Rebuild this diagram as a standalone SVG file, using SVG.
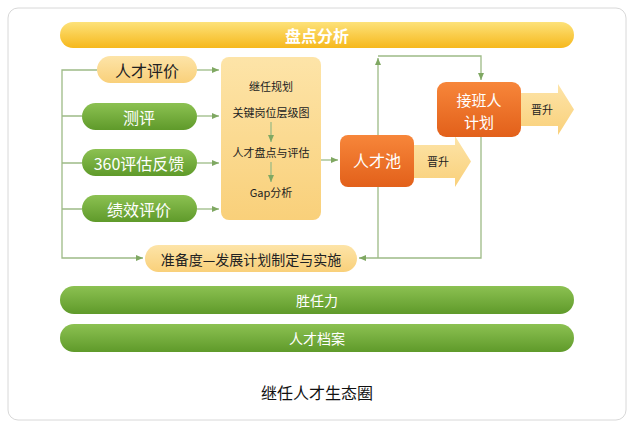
<svg xmlns="http://www.w3.org/2000/svg" width="634" height="428" viewBox="0 0 634 428">
<defs>
<linearGradient id="gy" x1="0" y1="0" x2="0" y2="1"><stop offset="0" stop-color="#fde27a"/><stop offset="1" stop-color="#f6b81c"/></linearGradient>
<linearGradient id="gg" x1="0" y1="0" x2="0" y2="1"><stop offset="0" stop-color="#8cc152"/><stop offset="1" stop-color="#5f9a2a"/></linearGradient>
<linearGradient id="go" x1="0" y1="0" x2="0" y2="1"><stop offset="0" stop-color="#f7863a"/><stop offset="1" stop-color="#e2601a"/></linearGradient>
<linearGradient id="gl" x1="0" y1="0" x2="0" y2="1"><stop offset="0" stop-color="#fde4a8"/><stop offset="1" stop-color="#f9d07a"/></linearGradient>
<marker id="a" markerWidth="8" markerHeight="8" refX="7" refY="4" orient="auto" markerUnits="userSpaceOnUse"><path d="M0,1 L7,4 L0,7 z" fill="#7fa862"/></marker>
<style>
.t{font-family:"Noto Sans CJK SC","Liberation Sans",sans-serif;text-anchor:middle;dominant-baseline:central}
.w{fill:#fff;font-size:16px}
.k{fill:#222;font-size:16px}
.s{fill:#222;font-size:11px}
.c{fill:none;stroke:#9dbb86;stroke-width:1.3}
</style>
</defs>
<rect x="8" y="8" width="618" height="412" rx="10" fill="#fff" stroke="#d8d8d8"/>
<g id="top"><rect x="60" y="22" width="514" height="26" rx="13" fill="url(#gy)"/><text class="t w" x="317" y="35" font-weight="bold">盘点分析</text></g>
<g id="rencaipingjia"><rect x="97" y="56" width="100" height="27" rx="13.5" fill="url(#gl)"/><text class="t k" x="147" y="69.5">人才评价</text></g>
<g id="ceping"><rect x="82" y="103" width="115" height="27" rx="13.5" fill="url(#gg)"/><text class="t w" x="139" y="116.5">测评</text></g>
<g id="f360"><rect x="82" y="149" width="115" height="27" rx="13.5" fill="url(#gg)"/><text class="t w" x="139" y="162.5">360评估反馈</text></g>
<g id="jixiao"><rect x="82" y="195" width="115" height="27" rx="13.5" fill="url(#gg)"/><text class="t w" x="139" y="208.5">绩效评价</text></g>
<g id="box"><rect x="221" y="57" width="100" height="163" rx="8" fill="url(#gl)"/>
<text class="t s" x="271" y="86">继任规划</text><text class="t s" x="271" y="112">关键岗位层级图</text><text class="t s" x="271" y="152">人才盘点与评估</text><text class="t s" x="271" y="192">Gap分析</text></g>
<g id="rencaichi"><path d="M413,145 H455 V136 L471,161.5 L455,187 V178 H413 z" fill="url(#gl)"/><rect x="340" y="135" width="74" height="52" rx="8" fill="url(#go)"/><text class="t w" x="377" y="160">人才池</text><text class="t s" x="438" y="161">晋升</text></g>
<g id="jiebanren"><path d="M520,93 H558 V84 L574,109.5 L558,135 V126 H520 z" fill="url(#gl)"/><rect x="437" y="82" width="84" height="55" rx="9" fill="url(#go)"/><text class="t w" x="479" y="99" style="font-size:15px">接班人</text><text class="t w" x="479" y="121" style="font-size:15px">计划</text><text class="t s" x="542" y="109">晋升</text></g>
<g id="zhunbei"><rect x="145" y="245" width="212" height="27" rx="13.5" fill="url(#gl)"/><text class="t k" x="251" y="258.5" style="font-size:14px">准备度—发展计划制定与实施</text></g>
<g id="shengrenli"><rect x="60" y="286" width="514" height="28" rx="14" fill="url(#gg)"/><text class="t w" x="317" y="300" style="font-size:14px">胜任力</text></g>
<g id="dangan"><rect x="60" y="324" width="514" height="28" rx="14" fill="url(#gg)"/><text class="t w" x="317" y="338" style="font-size:14px">人才档案</text></g>
<text class="t" x="317" y="392" style="font-size:16px;fill:#111">继任人才生态圈</text>
<g id="connectors">
<path class="c" d="M97,70 H62 V258 H143" marker-end="url(#a)"/>
<path class="c" d="M82,116 H62 M82,163 H62 M82,209 H62"/>
<path class="c" d="M197,70 H219" marker-end="url(#a)"/>
<path class="c" d="M197,116 H219" marker-end="url(#a)"/>
<path class="c" d="M197,163 H219" marker-end="url(#a)"/>
<path class="c" d="M197,209 H219" marker-end="url(#a)"/>
<path class="c" d="M321,160 H338" marker-end="url(#a)"/>
<path class="c" d="M378,258 V187 M378,135 V58" marker-end="url(#a)"/>
<path class="c" d="M378,56 H481 V80" marker-end="url(#a)"/>
<path class="c" d="M481,137 V258 H359" marker-end="url(#a)"/>
<path class="c" d="M271,122 V142" marker-end="url(#a)"/>
<path class="c" d="M271,162 V182" marker-end="url(#a)"/>
</g>
</svg>
